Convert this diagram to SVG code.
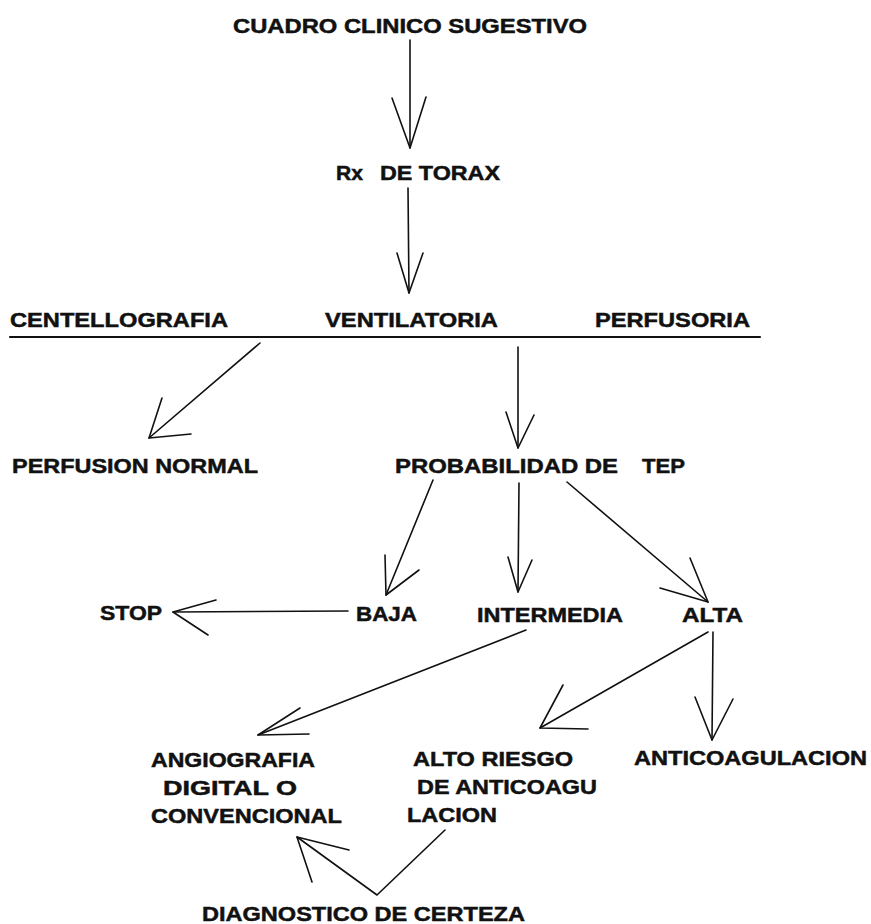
<svg xmlns="http://www.w3.org/2000/svg" width="871" height="924" viewBox="0 0 871 924">
<style>
text{font-family:"Liberation Sans",Arial,sans-serif;font-weight:bold;font-size:21px;fill:#111;stroke:#111;stroke-width:0.5}
.c line,.c polyline{stroke:#111;stroke-width:1.6;fill:none;stroke-linecap:round;stroke-linejoin:round}
.c .rule{stroke-width:2.2}
</style>
<rect width="871" height="924" fill="#fff"/>
<g id="cuadro"><text x="233" y="33" textLength="354" lengthAdjust="spacingAndGlyphs">CUADRO CLINICO SUGESTIVO</text></g>
<g id="rx"><text x="336" y="180" textLength="27" lengthAdjust="spacingAndGlyphs">Rx</text><text x="380" y="180" textLength="120" lengthAdjust="spacingAndGlyphs">DE TORAX</text></g>
<g id="centellografia"><text x="10" y="327" textLength="218" lengthAdjust="spacingAndGlyphs">CENTELLOGRAFIA</text></g>
<g id="ventilatoria"><text x="325" y="327" textLength="173" lengthAdjust="spacingAndGlyphs">VENTILATORIA</text></g>
<g id="perfusoria"><text x="595" y="327" textLength="155" lengthAdjust="spacingAndGlyphs">PERFUSORIA</text></g>
<g id="perfusion-normal"><text x="12" y="473" textLength="246" lengthAdjust="spacingAndGlyphs">PERFUSION NORMAL</text></g>
<g id="probabilidad"><text x="395" y="473" textLength="223" lengthAdjust="spacingAndGlyphs">PROBABILIDAD DE</text><text x="642" y="473" textLength="43" lengthAdjust="spacingAndGlyphs">TEP</text></g>
<g id="stop"><text x="100" y="620" textLength="62" lengthAdjust="spacingAndGlyphs">STOP</text></g>
<g id="baja"><text x="356" y="621" textLength="61" lengthAdjust="spacingAndGlyphs">BAJA</text></g>
<g id="intermedia"><text x="477" y="622" textLength="146" lengthAdjust="spacingAndGlyphs">INTERMEDIA</text></g>
<g id="alta"><text x="682" y="622" textLength="61" lengthAdjust="spacingAndGlyphs">ALTA</text></g>
<g id="angiografia">
<text x="151" y="767" textLength="164" lengthAdjust="spacingAndGlyphs">ANGIOGRAFIA</text>
<text x="163" y="795" textLength="134" lengthAdjust="spacingAndGlyphs">DIGITAL O</text>
<text x="151" y="823" textLength="191" lengthAdjust="spacingAndGlyphs">CONVENCIONAL</text>
</g>
<g id="alto-riesgo">
<text x="413" y="766" textLength="160" lengthAdjust="spacingAndGlyphs">ALTO RIESGO</text>
<text x="417" y="794" textLength="180" lengthAdjust="spacingAndGlyphs">DE ANTICOAGU</text>
<text x="407" y="822" textLength="90" lengthAdjust="spacingAndGlyphs">LACION</text>
</g>
<g id="anticoagulacion"><text x="634" y="765" textLength="233" lengthAdjust="spacingAndGlyphs">ANTICOAGULACION</text></g>
<g id="diagnostico"><text x="202" y="921" textLength="323" lengthAdjust="spacingAndGlyphs">DIAGNOSTICO DE CERTEZA</text></g>
<g id="connectors" class="c">
<line x1="410" y1="40" x2="410" y2="148"/><polyline points="392,98 410,148 426,97"/>
<line x1="408" y1="188" x2="409" y2="293"/><polyline points="397,253 409,293 423,253"/>
<line class="rule" x1="10" y1="337" x2="760" y2="337"/>
<line x1="260" y1="343" x2="149" y2="438"/><polyline points="162,398 149,438 191,434"/>
<line x1="518" y1="347" x2="518" y2="448"/><polyline points="506,412 518,448 534,415"/>
<line x1="433" y1="480" x2="386" y2="595"/><polyline points="385,555 386,595 419,570"/>
<line x1="519" y1="483" x2="518" y2="592"/><polyline points="508,557 518,592 532,560"/>
<line x1="567" y1="482" x2="708" y2="602"/><polyline points="690,558 708,602 660,588"/>
<line x1="348" y1="611" x2="173" y2="612"/><polyline points="216,600 173,612 208,635"/>
<line x1="526" y1="630" x2="258" y2="735"/><polyline points="300,708 258,735 309,734"/>
<line x1="708" y1="632" x2="540" y2="728"/><polyline points="563,685 540,728 588,729"/>
<line x1="713" y1="632" x2="712" y2="740"/><polyline points="695,697 712,740 733,699"/>
<polyline points="445,830 377,895 297,837"/><polyline points="349,850 297,837 312,882"/>
</g>
</svg>
